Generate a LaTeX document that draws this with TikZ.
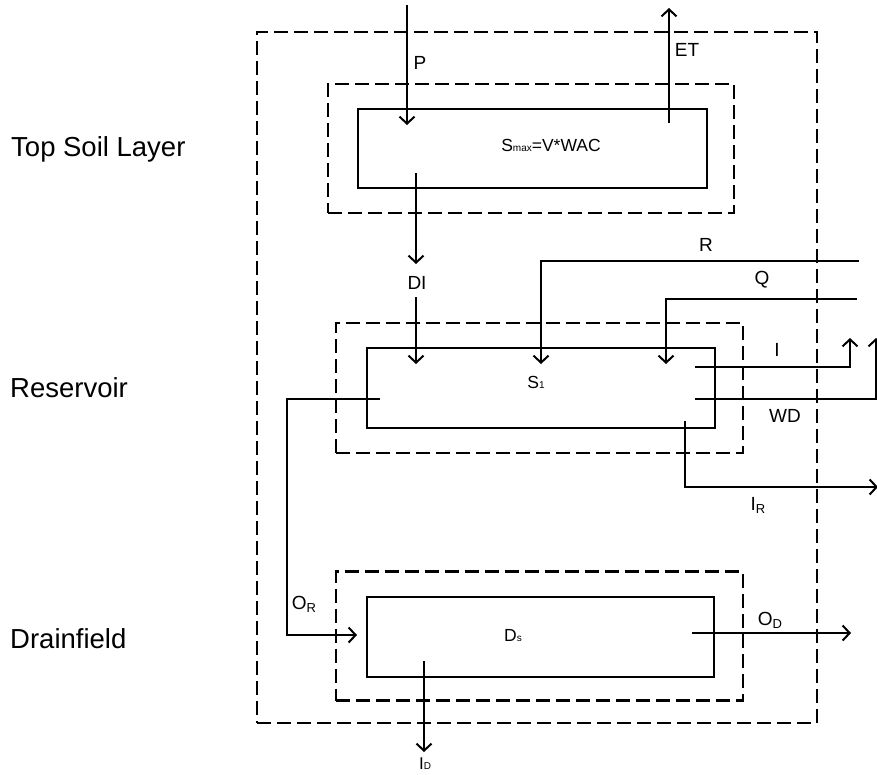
\documentclass[tikz,border=0pt]{standalone}
\usepackage{fontspec}
\setmainfont{Liberation Sans}
\usepackage{tikz}
\usetikzlibrary{arrows.meta}

\newcommand{\tinysub}[1]{{\fontsize{10}{10}\selectfont #1}}
\newcommand{\lowsub}[1]{\raisebox{-3pt}{\fontsize{13}{13}\selectfont #1}}

\begin{document}
\begin{tikzpicture}[x=1pt, y=-1pt, every node/.style={inner sep=0pt}]
        \tikzset{
            solidbox/.style={draw, line width=2.2pt, minimum width=348pt, minimum height=79pt},
            dashbox/.style={draw, line width=2.4pt, dash pattern=on 14pt off 6pt, minimum width=406pt, minimum height=129pt},
            arr/.style={-{Straight Barb[length=7pt, width=15pt]}, line width=2pt},
            layer/.style={font=\fontsize{27.5}{33}\selectfont, anchor=base west},
            flux/.style={font=\fontsize{19}{23}\selectfont},
            store/.style={font=\fontsize{17.5}{21}\selectfont}
        }
        \useasboundingbox (0,0) rectangle (877,774);

        \node[dashbox, minimum width=560pt, minimum height=691pt] (site) at (537,377.5) {};

        \node[layer] (toplbl) at (11,156) {Top Soil Layer};
        \node[layer] (reslbl) at (10,397) {Reservoir};
        \node[layer] (drlbl) at (10,648) {Drainfield};

        % top soil layer
        \node[dashbox] (topzone) at (531,148.5) {};
        \node[solidbox, minimum width=349pt] (topsoil) at (532.5,148.5) {};
        \node[store] (smax) at (551,145) {S\tinysub{max}=V*WAC};

        % reservoir
        \node[dashbox, minimum width=407pt, minimum height=130pt] (reszone) at (539.5,388) {};
        \node[solidbox, minimum height=80pt] (reservoir) at (541,388) {};
        \node[store] (sone) at (536,382) {S\tinysub{1}};

        % drainfield
        \node[dashbox, minimum width=407pt] (drzone) at (539.5,636) {};
        \node[solidbox, minimum width=347pt, minimum height=80pt] (drainfield) at (540.5,637) {};
        \node[store] (ds) at (513,636) {D\tinysub{s}};

        \coordinate (pIn) at (407,5);
        \coordinate (pOut) at (407,125);
        \coordinate (etIn) at (669,123);
        \coordinate (etOut) at (669,8);
        \coordinate (diIn) at (416,173);
        \coordinate (diOut) at (416,264);
        \coordinate (diRes) at (416,297);
        \coordinate (diS) at (416,364);
        \coordinate (rIn) at (859,261);
        \coordinate (rS) at (541,364);
        \coordinate (qIn) at (857,299);
        \coordinate (qS) at (666,364);
        \coordinate (iOut) at (695,367);
        \coordinate (iEnd) at (850,338);
        \coordinate (wdOut) at (695,399);
        \coordinate (wdEnd) at (876,338);
        \coordinate (irOut) at (685,421);
        \coordinate (irEnd) at (878,487);
        \coordinate (orOut) at (380,399);
        \coordinate (orCorner) at (287,635);
        \coordinate (orIn) at (357,635);
        \coordinate (odOut) at (692,633);
        \coordinate (odEnd) at (851,633);
        \coordinate (idOut) at (424,661);
        \coordinate (idEnd) at (424,752);

        \draw[arr] (pIn) -- (pOut);
        \draw[arr] (etIn) -- (etOut);
        \draw[arr] (diIn) -- (diOut);
        \draw[arr] (diRes) -- (diS);
        \draw[arr] (rIn) -| (rS);
        \draw[arr] (qIn) -| (qS);
        \draw[arr] (iOut) -| (iEnd);
        \draw[arr] (wdOut) -| (wdEnd);
        \draw[arr] (irOut) |- (irEnd);
        \draw[arr] (orOut) -| (orCorner) -- (orIn);
        \draw[arr] (odOut) -- (odEnd);
        \draw[arr] (idOut) -- (idEnd);

        \node[flux] (plbl) at (420,63) {P};
        \node[flux] (etlbl) at (687,50) {ET};
        \node[flux] (dilbl) at (417,283) {DI};
        \node[flux] (rlbl) at (706,245) {R};
        \node[flux] (qlbl) at (762,280) {Q};
        \node[flux] (ilbl) at (777,350) {I};
        \node[flux] (wdlbl) at (785,416) {WD};
        \node[flux] (irlbl) at (758,505) {I\lowsub{R}};
        \node[flux] (orlbl) at (304,604) {O\lowsub{R}};
        \node[flux] (odlbl) at (770,620) {O\lowsub{D}};
        \node[flux, font=\fontsize{17}{20}\selectfont] (idlbl) at (425,764) {I\tinysub{D}};
    \end{tikzpicture}
\end{document}
